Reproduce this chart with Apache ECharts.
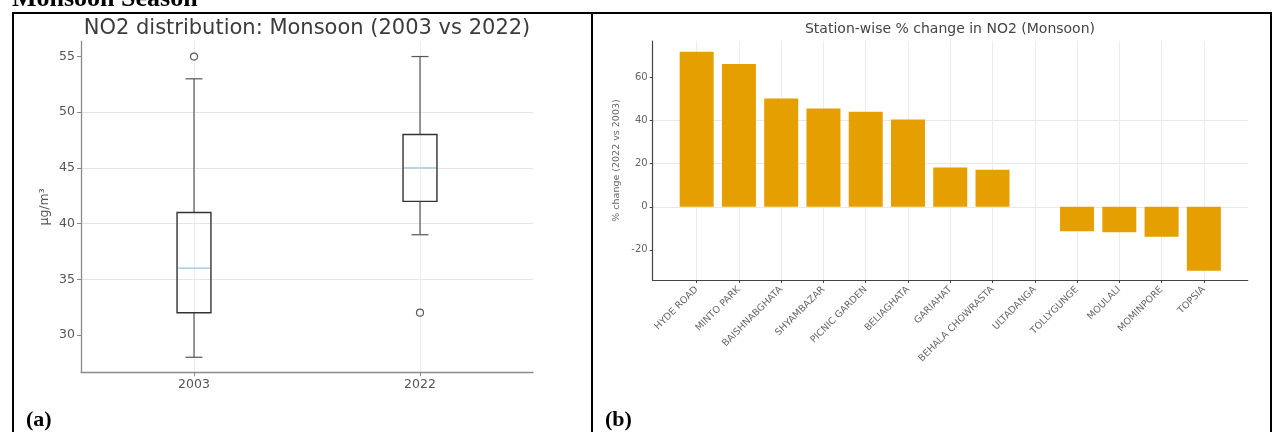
<!DOCTYPE html>
<html>
<head>
<meta charset="utf-8">
<script src="https://cdn.jsdelivr.net/npm/echarts@6/dist/echarts.min.js"></script>
<style>
  html, body { margin: 0; padding: 0; background: #fff; }
  #chart { width: 1280px; height: 432px; }
</style>
</head>
<body>
<div id="chart"></div>
<script>
// Panel (a): NO2 box plots per year
const years = ['2003', '2022'];
// each row: [lower whisker, Q1, median, Q3, upper whisker]
const boxStats = [
  [28, 32, 36, 41, 53],
  [39, 42, 45, 48, 55]
];
// outliers: [year index, value]
const outliers = [[0, 55], [1, 32]];
const boxTicks = [30, 35, 40, 45, 50, 55];

// Panel (b): station-wise % change
const stations = ['HYDE ROAD', 'MINTO PARK', 'BAISHNABGHATA', 'SHYAMBAZAR', 'PICNIC GARDEN',
  'BELIAGHATA', 'GARIAHAT', 'BEHALA CHOWRASTA', 'ULTADANGA', 'TOLLYGUNGE', 'MOULALI',
  'MOMINPORE', 'TOPSIA'];
const pctChange = [72, 66.4, 50.3, 45.7, 44.2, 40.6, 18.3, 17.2, 0, -11.4, -11.9, -13.9, -29.7];
const pctTicks = [-20, 0, 20, 40, 60];

const chart = echarts.init(document.getElementById('chart'), null, { renderer: 'canvas' });

const SANS = 'DejaVu Sans';
const SERIF = 'Liberation Serif';

// box, whiskers, caps and median of one box plot, placed through the axes
function renderBox(params, api) {
  const x = api.value(0);
  const lo = api.coord([x, api.value(1)]);
  const q1 = api.coord([x, api.value(2)]);
  const md = api.coord([x, api.value(3)]);
  const q3 = api.coord([x, api.value(4)]);
  const hi = api.coord([x, api.value(5)]);
  const half = api.size([0.15, 0])[0] / 2;
  const cap = half / 2;
  const whisk = { stroke: '#555', lineWidth: 1.2 };
  return {
    type: 'group',
    children: [
      { type: 'line', shape: { x1: lo[0], y1: lo[1], x2: q1[0], y2: q1[1] }, style: whisk },
      { type: 'line', shape: { x1: q3[0], y1: q3[1], x2: hi[0], y2: hi[1] }, style: whisk },
      { type: 'line', shape: { x1: lo[0] - cap, y1: lo[1], x2: lo[0] + cap, y2: lo[1] }, style: whisk },
      { type: 'line', shape: { x1: hi[0] - cap, y1: hi[1], x2: hi[0] + cap, y2: hi[1] }, style: whisk },
      { type: 'rect', shape: { x: q3[0] - half, y: q3[1], width: half * 2, height: q1[1] - q3[1] },
        style: { fill: 'none', stroke: '#333', lineWidth: 1.4 } },
      { type: 'line', shape: { x1: md[0] - half + 1, y1: md[1], x2: md[0] + half - 1, y2: md[1] },
        style: { stroke: '#9cc9e8', lineWidth: 1.4 } }
    ]
  };
}

const boxData = boxStats.map((s, i) => [i + 1].concat(s));
const outlierData = outliers.map(o => [o[0] + 1, o[1]]);
const barData = pctChange.map((v, i) => [i, v]);
const stationIdx = stations.map((s, i) => i);

const option = {
  animation: false,
  backgroundColor: '#fff',
  grid: [
    { left: 81, right: 747, top: 41.5, bottom: 59.7 },
    { left: 652.7, right: 32.2, top: 41, bottom: 152 }
  ],
  xAxis: [
    {
      gridIndex: 0, type: 'value', min: 0.5, max: 2.5,
      axisLine: { onZero: false, lineStyle: { color: '#8a8a8a', width: 1.3 } },
      axisTick: { show: true, customValues: [1, 2], length: 4, lineStyle: { color: '#8a8a8a' } },
      axisLabel: { customValues: [1, 2], formatter: v => years[Math.round(v) - 1],
        color: '#555', fontSize: 12.5, fontFamily: SANS, margin: 6 },
      splitLine: { show: true, lineStyle: { color: '#ececec', width: 1 } }
    },
    {
      gridIndex: 1, type: 'value', min: -1.04, max: 13.04,
      axisLine: { onZero: false, lineStyle: { color: '#444', width: 1.2 } },
      axisTick: { show: true, customValues: stationIdx, length: 3, lineStyle: { color: '#444' } },
      axisLabel: { customValues: stationIdx, formatter: v => stations[Math.round(v)],
        rotate: 45, color: '#666', fontSize: 9.5, fontFamily: SANS, margin: 8 },
      splitLine: { show: true, lineStyle: { color: '#ececec', width: 1 } }
    }
  ],
  yAxis: [
    {
      gridIndex: 0, type: 'value', min: 26.65, max: 56.35,
      name: 'µg/m³', nameLocation: 'middle', nameGap: 30,
      nameTextStyle: { color: '#555', fontSize: 12.5, fontFamily: SANS },
      axisLine: { show: true, onZero: false, lineStyle: { color: '#8a8a8a', width: 1.3 } },
      axisTick: { show: true, customValues: boxTicks, length: 4, lineStyle: { color: '#8a8a8a' } },
      axisLabel: { customValues: boxTicks, color: '#555', fontSize: 12.5, fontFamily: SANS, margin: 6 },
      splitLine: { show: true, showMinLine: false, showMaxLine: false, lineStyle: { color: '#e6e6e6', width: 1 } }
    },
    {
      gridIndex: 1, type: 'value', min: -34.05, max: 77.05,
      name: '% change (2022 vs 2003)', nameLocation: 'middle', nameGap: 31,
      nameTextStyle: { color: '#666', fontSize: 9.5, fontFamily: SANS },
      axisLine: { show: true, onZero: false, lineStyle: { color: '#444', width: 1.2 } },
      axisTick: { show: true, customValues: pctTicks, length: 3, lineStyle: { color: '#444' } },
      axisLabel: { customValues: pctTicks, color: '#666', fontSize: 10, fontFamily: SANS, margin: 5 },
      splitLine: { show: true, showMinLine: false, showMaxLine: false, lineStyle: { color: '#e8e8e8', width: 1 } }
    }
  ],
  series: [
    {
      type: 'custom', xAxisIndex: 0, yAxisIndex: 0,
      renderItem: renderBox, data: boxData, z: 3
    },
    {
      type: 'scatter', xAxisIndex: 0, yAxisIndex: 0, data: outlierData,
      symbol: 'circle', symbolSize: 7,
      itemStyle: { color: '#fff', borderColor: '#333', borderWidth: 1.2 }, z: 4
    },
    {
      type: 'bar', xAxisIndex: 1, yAxisIndex: 1, data: barData,
      barWidth: 34, itemStyle: { color: '#E69F00' }, z: 3
    }
  ],
  graphic: [
    // table frame around the two panels
    { type: 'line', shape: { x1: 12, y1: 13, x2: 1272, y2: 13 }, style: { stroke: '#000', lineWidth: 2 }, z: 10 },
    { type: 'line', shape: { x1: 13, y1: 12, x2: 13, y2: 440 }, style: { stroke: '#000', lineWidth: 2 }, z: 10 },
    { type: 'line', shape: { x1: 592, y1: 12, x2: 592, y2: 440 }, style: { stroke: '#000', lineWidth: 2 }, z: 10 },
    { type: 'line', shape: { x1: 1271, y1: 12, x2: 1271, y2: 440 }, style: { stroke: '#000', lineWidth: 2 }, z: 10 },
    // heading above the table
    { type: 'text', x: 12, y: -1, z: 10,
      style: { text: 'Monsoon Season', font: 'bold 26px "' + SERIF + '"', fill: '#000', verticalAlign: 'middle' } },
    // panel titles
    { type: 'text', x: 307, y: 29, z: 10,
      style: { text: 'NO2 distribution: Monsoon (2003 vs 2022)', font: '21px "' + SANS + '"', fill: '#3c3c3c',
        align: 'center', verticalAlign: 'middle' } },
    { type: 'text', x: 950, y: 29, z: 10,
      style: { text: 'Station-wise % change in NO2 (Monsoon)', font: '14px "' + SANS + '"', fill: '#444',
        align: 'center', verticalAlign: 'middle' } },
    // panel letters
    { type: 'text', x: 26, y: 420, z: 10,
      style: { text: '(a)', font: 'bold 22px "' + SERIF + '"', fill: '#000', verticalAlign: 'middle' } },
    { type: 'text', x: 605, y: 420, z: 10,
      style: { text: '(b)', font: 'bold 22px "' + SERIF + '"', fill: '#000', verticalAlign: 'middle' } }
  ]
};

chart.setOption(option);
</script>
</body>
</html>
